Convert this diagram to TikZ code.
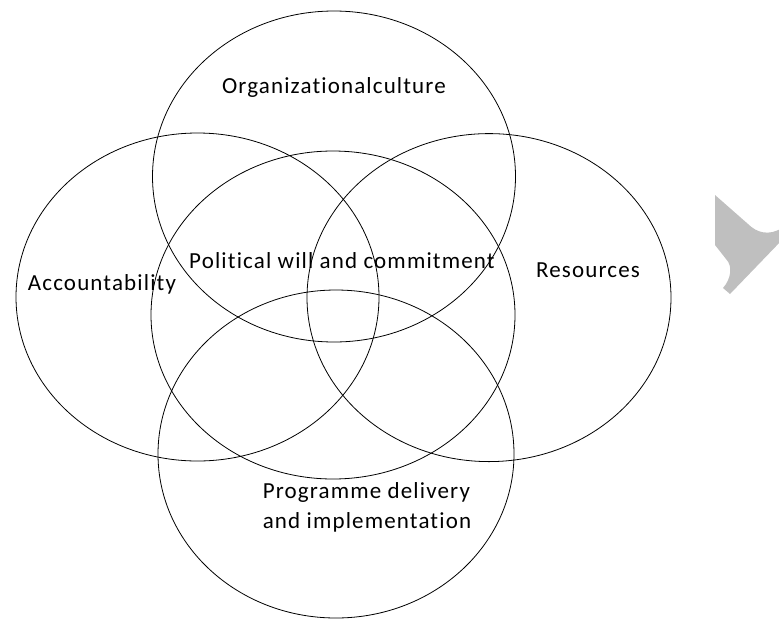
\documentclass[tikz,border=0pt]{standalone}
\usepackage{fontspec}
\setmainfont[LetterSpace=5,Ligatures=NoCommon]{Carlito}
\begin{document}
\begin{tikzpicture}[x=1pt,y=1pt]
    \tikzstyle{every node}+=[inner sep=0pt, font=\fontsize{23}{30}\selectfont]
    \useasboundingbox (0,0) rectangle (779,-619);
    % grey chevron at the right edge
    \fill [black!25] (715,-195) -- (748,-224) .. controls (757,-233) and (769,-236) .. (782,-228)
        -- (782,-240) -- (730,-294) -- (723,-288) .. controls (731,-279) and (733,-266) .. (726,-259)
        -- (715,-245) -- cycle;
    % the five sets
    \draw [black, line width=0.8pt] (334,-176.5) ellipse (181.5 and 165.5);
    \draw [black, line width=0.8pt] (197.5,-297) ellipse (181.5 and 164);
    \draw [black, line width=0.8pt] (333,-315) ellipse (182 and 164);
    \draw [black, line width=0.8pt] (489,-297.6) ellipse (182 and 164);
    \draw [black, line width=0.8pt] (336,-454) ellipse (178 and 164);
    % labels
    \node (culture) at (334,-87) {Organizationalculture};
    \node (political) at (342,-261) {Political will and commitment};
    \node (account) at (102,-284) {Accountability};
    \node (resources) at (588,-270) {Resources};
    \node (delivery) [align=left] at (367,-507) {Programme delivery\\and implementation};
\end{tikzpicture}
\end{document}
